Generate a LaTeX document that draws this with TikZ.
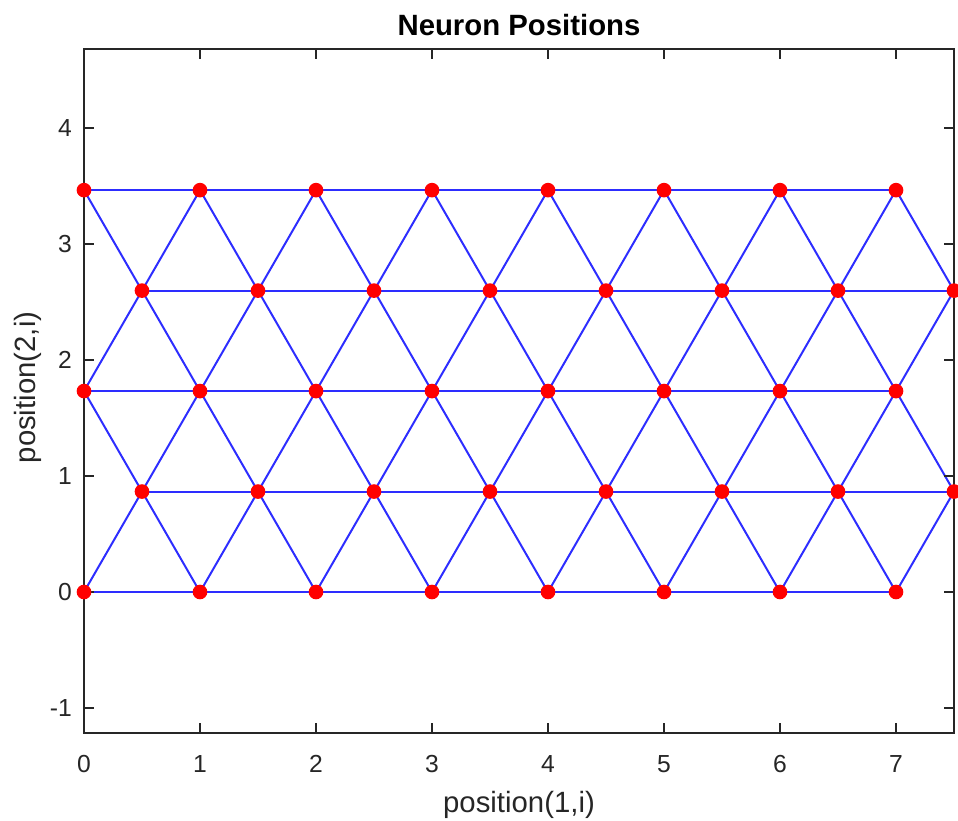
\documentclass[tikz,border=0pt]{standalone}
\usepackage{fontspec}
\setmainfont{Liberation Sans}
\definecolor{axgray}{RGB}{38,38,38}
\definecolor{linkblue}{RGB}{45,45,255}
\tikzset{
  link/.style={draw=linkblue, line width=1.5pt},
  neuron/.style={circle, fill=red, inner sep=0pt, minimum size=11pt},
  axisline/.style={draw=axgray, line width=1.1pt},
  ticklab/.style={text=axgray, font=\fontsize{18.5}{20}\selectfont, inner sep=0pt},
  axlab/.style={text=axgray, font=\fontsize{22}{24}\selectfont, inner sep=0pt},
  ttl/.style={text=black, font=\fontsize{22}{24}\selectfont\bfseries, inner sep=0pt}
}
\begin{document}
\begin{tikzpicture}[x=87pt,y=87pt]
\useasboundingbox (-0.72414,-1.97414) rectangle (7.53448,5.10345);
% neuron coordinates
\foreach \r in {0,...,4}{
  \foreach \c in {0,...,7}{
    \pgfmathsetmacro\xx{\c+0.5*mod(\r,2)}
    \pgfmathsetmacro\yy{\r*0.8660254}
    \coordinate (n\r-\c) at (\xx,\yy);
  }
}
% horizontal links
\foreach \r in {0,...,4}{
  \foreach \c [evaluate=\c as \d using int(\c+1)] in {0,...,6}{
    \draw[link] (n\r-\c) -- (n\r-\d);
  }
}
% diagonal links
\foreach \r [evaluate=\r as \s using int(\r+1)] in {0,...,3}{
  \foreach \c in {0,...,7}{
    \draw[link] (n\r-\c) -- (n\s-\c);
  }
}
\foreach \r [evaluate=\r as \s using int(\r+1)] in {0,2}{
  \foreach \c [evaluate=\c as \d using int(\c-1)] in {1,...,7}{
    \draw[link] (n\r-\c) -- (n\s-\d);
  }
}
\foreach \r [evaluate=\r as \s using int(\r+1)] in {1,3}{
  \foreach \c [evaluate=\c as \d using int(\c+1)] in {0,...,6}{
    \draw[link] (n\r-\c) -- (n\s-\d);
  }
}
% axes box and ticks
\coordinate (bl) at (0,-1.21552);
\coordinate (tr) at (7.5,4.68103);
\draw[axisline] (bl) rectangle (tr);
\foreach \t in {0,...,7}{
  \draw[axisline] (\t,-1.21552) -- ++(0,0.0862);
  \draw[axisline] (\t,4.68103) -- ++(0,-0.0862);
  \node[ticklab, anchor=base] (xt\t) at (\t,-1.5603) {\t};
}
\foreach \t in {-1,...,4}{
  \draw[axisline] (0,\t) -- ++(0.0862,0);
  \draw[axisline] (7.5,\t) -- ++(-0.0862,0);
  \node[ticklab, anchor=east] (yt\t) at (-0.1034,\t) {\t};
}
% neurons
\foreach \r in {0,...,4}{
  \foreach \c in {0,...,7}{
    \node[neuron] (d\r-\c) at (n\r-\c) {};
  }
}
% labels
\node[ttl, anchor=base] (title) at (3.75,4.7931) {Neuron Positions};
\node[axlab, anchor=base] (xlabel) at (3.75,-1.8966) {position(1,i)};
\node[axlab, anchor=base, rotate=90] (ylabel) at (-0.4224,1.763) {position(2,i)};
\end{tikzpicture}
\end{document}
